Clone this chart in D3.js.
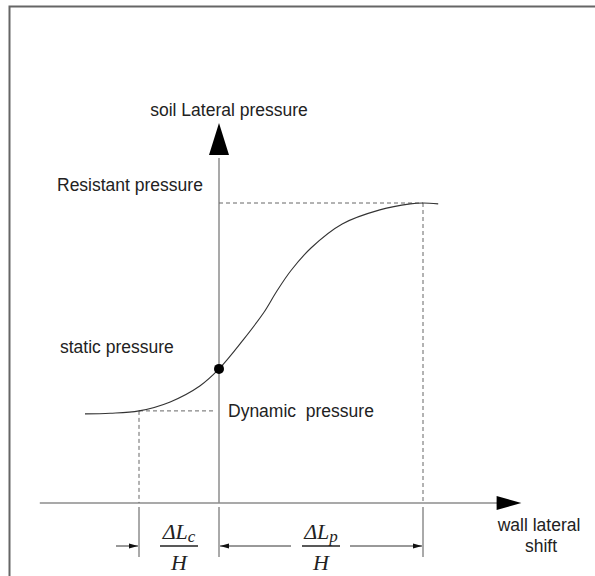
<!DOCTYPE html>
<html>
<head>
<meta charset="utf-8">
<script src="https://cdn.jsdelivr.net/npm/d3@7"></script>
<style>
  body { margin: 0; background: #fff; }
  text { font-family: "Liberation Sans", Arial, sans-serif; fill: #222; }
  .math { font-family: "Liberation Serif", "DejaVu Serif", serif; font-style: italic; }
</style>
</head>
<body>
<div id="chart"></div>
<script>
// wall shift (relative units) and soil lateral pressure along the curve
var curveShift    = [-1.675, -1.36, -1.0, -0.61, -0.24, 0, 0.3, 0.56, 0.72, 0.9, 1.15, 1.54, 2.01, 2.39, 2.55, 2.74];
var curvePressure = [2.97, 2.99, 3.07, 3.37, 3.9, 4.47, 5.43, 6.35, 7.05, 7.75, 8.5, 9.3, 9.77, 9.97, 10, 9.97];

var levelNames  = ["Resistant pressure", "static pressure", "Dynamic  pressure"];
var levelValues = [10, 4.47, 3.07];

var shiftActive  = -1.0;   // ΔLc / H
var shiftPassive = 2.55;   // ΔLp / H

var width = 595, height = 576;

var svg = d3.select("#chart").append("svg")
  .attr("width", width)
  .attr("height", height);

var x = d3.scaleLinear().domain([-2.5, 4]).range([19, 539]);
var y = d3.scaleLinear().domain([0, 10]).range([503, 203]);

// frame (only top + left inside the picture)
svg.append("rect")
  .attr("x", 9.5).attr("y", 6.5)
  .attr("width", 620).attr("height", 620)
  .attr("fill", "none")
  .attr("stroke", "#666")
  .attr("stroke-width", 2);

var axisColor = "#8c8c8c";
var fs = "17.5px";

// x axis
svg.append("line")
  .attr("x1", x(-2.24)).attr("x2", x(3.5))
  .attr("y1", y(0)).attr("y2", y(0))
  .attr("stroke", axisColor).attr("stroke-width", 1.5);
svg.append("path")
  .attr("d", `M${x(3.47)},${y(0) - 7} L${x(3.78)},${y(0)} L${x(3.47)},${y(0) + 7} Z`)
  .attr("fill", "#000");

// y axis
svg.append("line")
  .attr("x1", x(0)).attr("x2", x(0))
  .attr("y1", y(0)).attr("y2", y(11.5))
  .attr("stroke", axisColor).attr("stroke-width", 1.5);
svg.append("path")
  .attr("d", `M${x(0) - 10},${y(11.6)} L${x(0)},${y(12.67)} L${x(0) + 10},${y(11.6)} Z`)
  .attr("fill", "#000");

svg.append("text")
  .attr("x", 229).attr("y", 116)
  .attr("text-anchor", "middle")
  .style("font-size", fs)
  .text("soil Lateral pressure");

// dashed helper lines
var dash = "4,3";
var iMax = curvePressure.indexOf(d3.max(curvePressure));
var guides = [
  [0, levelValues[0], curveShift[iMax], levelValues[0]],
  [shiftPassive, levelValues[0], shiftPassive, 0],
  [shiftActive, levelValues[2], -0.05, levelValues[2]],
  [shiftActive, levelValues[2], shiftActive, 0]
];
svg.append("g").selectAll("line")
  .data(guides)
  .join("line")
    .attr("x1", d => x(d[0])).attr("y1", d => y(d[1]))
    .attr("x2", d => x(d[2])).attr("y2", d => y(d[3]))
    .attr("stroke", "#666")
    .attr("stroke-width", 1)
    .attr("stroke-dasharray", dash);

// the curve
var pts = curveShift.map((s, i) => [s, curvePressure[i]]);
var line = d3.line()
  .x(d => x(d[0]))
  .y(d => y(d[1]))
  .curve(d3.curveCatmullRom.alpha(0.5));
svg.append("path")
  .datum(pts)
  .attr("d", line)
  .attr("fill", "none")
  .attr("stroke", "#333")
  .attr("stroke-width", 1.1);

// static point
svg.append("circle")
  .attr("cx", x(0)).attr("cy", y(levelValues[1]))
  .attr("r", 5)
  .attr("fill", "#000");

// level labels
svg.append("text").attr("x", 57).attr("y", y(levelValues[0]) - 12)
  .style("font-size", fs).text(levelNames[0]);
svg.append("text").attr("x", 60).attr("y", y(levelValues[1]) - 16)
  .style("font-size", fs).text(levelNames[1]);
svg.append("text").attr("x", x(0) + 9).attr("y", y(levelValues[2]) + 6)
  .style("font-size", fs)
  .attr("xml:space", "preserve")
  .text(levelNames[2]);

svg.append("text").attr("x", 539).attr("y", 531)
  .attr("text-anchor", "middle").style("font-size", fs).text("wall lateral");
svg.append("text").attr("x", 541).attr("y", 552)
  .attr("text-anchor", "middle").style("font-size", fs).text("shift");

// dimension lines under the x axis
var extTop = 507, extBottom = 557, dimY = 546;
svg.append("g").selectAll("line")
  .data([shiftActive, 0, shiftPassive])
  .join("line")
    .attr("x1", d => x(d)).attr("x2", d => x(d))
    .attr("y1", extTop).attr("y2", extBottom)
    .attr("stroke", "#555").attr("stroke-width", 1);

function arrowTo(x1, x2) {
  var g = svg.append("g");
  g.append("line")
    .attr("x1", x1).attr("x2", x2).attr("y1", dimY).attr("y2", dimY)
    .attr("stroke", "#333").attr("stroke-width", 1);
  var dir = x2 > x1 ? 1 : -1;
  g.append("path")
    .attr("d", `M${x2},${dimY} L${x2 - dir * 9},${dimY - 2.5} L${x2 - dir * 9},${dimY + 2.5} Z`)
    .attr("fill", "#111");
}
arrowTo(x(shiftActive) - 23, x(shiftActive) - 1);
arrowTo(x(0) + 72, x(0) + 1);
arrowTo(x(shiftPassive) - 73, x(shiftPassive) - 1);

function fraction(cx, sub) {
  var g = svg.append("g").attr("transform", `translate(${cx},0)`);
  var t = g.append("text").attr("class", "math")
    .attr("x", 0).attr("y", 539)
    .attr("text-anchor", "middle")
    .style("font-size", "22px");
  t.append("tspan").text("ΔL");
  t.append("tspan").attr("dy", 3).style("font-size", "17px").text(sub);
  g.append("line")
    .attr("x1", -19).attr("x2", 19).attr("y1", 546).attr("y2", 546)
    .attr("stroke", "#222").attr("stroke-width", 1.5);
  g.append("text").attr("class", "math")
    .attr("x", 0).attr("y", 570)
    .attr("text-anchor", "middle")
    .style("font-size", "22px")
    .text("H");
}
fraction((x(shiftActive) + x(0)) / 2, "c");
fraction(321, "p");
</script>
</body>
</html>
